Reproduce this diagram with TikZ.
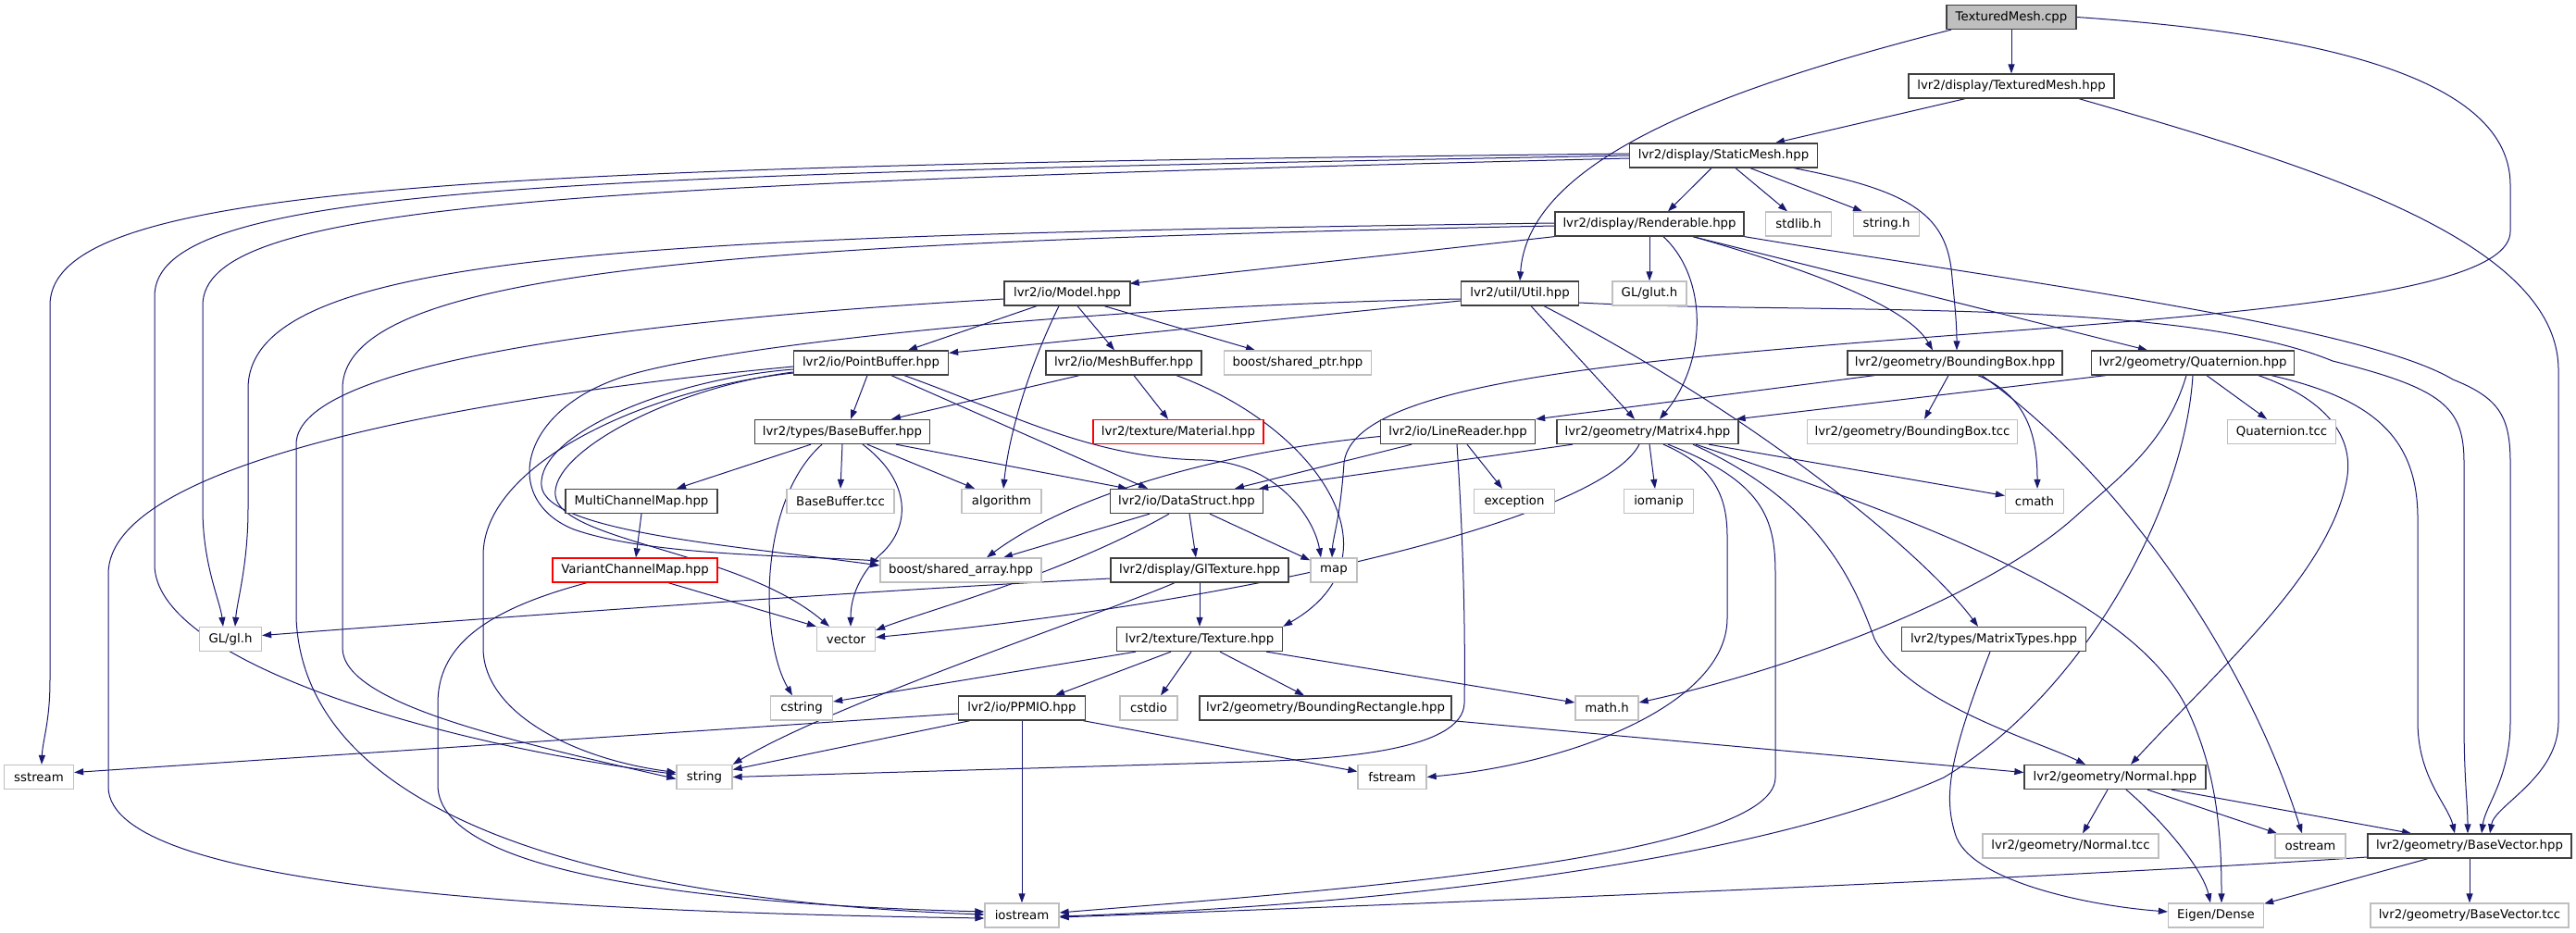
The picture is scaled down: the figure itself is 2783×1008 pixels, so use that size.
\documentclass[tikz,border=0pt]{standalone}
\usepackage{fontspec}
\setmainfont{DejaVu Sans}
\usetikzlibrary{arrows.meta}
\definecolor{edgec}{HTML}{191970}
\definecolor{boxb}{HTML}{404040}
\definecolor{grayb}{HTML}{BFBFBF}
\definecolor{rootf}{HTML}{BFBFBF}
\newcommand{\nf}{\fontsize{13.3}{16}\selectfont}
\pgfdeclarelayer{bg}
\pgfsetlayers{bg,main}
\begin{document}
\begin{tikzpicture}[x=1pt,y=-1pt,
  box/.style={draw=boxb,line width=1.3pt,fill=white,minimum height=26pt,inner sep=0pt,font=\nf},
  sysbox/.style={box,draw=grayb},
  redbox/.style={box,draw=red},
  rootbox/.style={box,fill=rootf},
  edge/.style={draw=edgec,line width=1pt,-{Triangle[length=10pt,width=7pt]}}]
\useasboundingbox (0,0) rectangle (2783,1008);
% nodes
\node[rootbox, minimum width=140pt] (cpp) at (2173,18.5) {TexturedMesh.cpp};
\node[box, minimum width=222pt] (tmh) at (2173,93) {lvr2/display/TexturedMesh.hpp};
\node[box, minimum width=203pt] (sm) at (1862,168) {lvr2/display/StaticMesh.hpp};
\node[box, minimum width=204pt] (rend) at (1782,242) {lvr2/display/Renderable.hpp};
\node[sysbox, minimum width=71pt] (stdlib) at (1943,242) {stdlib.h};
\node[sysbox, minimum width=71pt] (stringh) at (2038,242) {string.h};
\node[box, minimum width=127pt] (util) at (1642,317) {lvr2/util/Util.hpp};
\node[sysbox, minimum width=80pt] (glut) at (1782,317) {GL/glut.h};
\node[box, minimum width=136pt] (model) at (1153,317) {lvr2/io/Model.hpp};
\node[box, minimum width=167pt] (pb) at (941,392) {lvr2/io/PointBuffer.hpp};
\node[box, minimum width=168pt] (mb) at (1214,392) {lvr2/io/MeshBuffer.hpp};
\node[sysbox, minimum width=159pt] (sptr) at (1402,392) {boost/shared\_ptr.hpp};
\node[box, minimum width=232pt] (bbox) at (2112,392) {lvr2/geometry/BoundingBox.hpp};
\node[box, minimum width=219pt] (quat) at (2369,392) {lvr2/geometry/Quaternion.hpp};
\node[box, minimum width=189pt] (bbuf) at (910,466.5) {lvr2/types/BaseBuffer.hpp};
\node[redbox, minimum width=184pt] (mat) at (1273,466.5) {lvr2/texture/Material.hpp};
\node[box, minimum width=167pt] (lr) at (1575,466.5) {lvr2/io/LineReader.hpp};
\node[box, minimum width=196pt] (m4) at (1780,466.5) {lvr2/geometry/Matrix4.hpp};
\node[sysbox, minimum width=227pt] (bbtcc) at (2066,466.5) {lvr2/geometry/BoundingBox.tcc};
\node[sysbox, minimum width=117pt] (qtcc) at (2465,466.5) {Quaternion.tcc};
\node[box, minimum width=164pt] (mcm) at (693,541.5) {MultiChannelMap.hpp};
\node[sysbox, minimum width=116pt] (bbftcc) at (908,541.5) {BaseBuffer.tcc};
\node[sysbox, minimum width=86pt] (algo) at (1082,541.5) {algorithm};
\node[box, minimum width=165pt] (ds) at (1282,541.5) {lvr2/io/DataStruct.hpp};
\node[sysbox, minimum width=87pt] (exc) at (1636,541.5) {exception};
\node[sysbox, minimum width=75pt] (ioman) at (1792,541.5) {iomanip};
\node[sysbox, minimum width=63pt] (cmath) at (2198,541.5) {cmath};
\node[redbox, minimum width=178pt] (vcm) at (686,616) {VariantChannelMap.hpp};
\node[sysbox, minimum width=174pt] (sarr) at (1038,616) {boost/shared\_array.hpp};
\node[box, minimum width=192pt] (glt) at (1296,616) {lvr2/display/GlTexture.hpp};
\node[sysbox, minimum width=50pt] (map) at (1441,616) {map};
\node[sysbox, minimum width=67pt] (gl) at (249,690.5) {GL/gl.h};
\node[sysbox, minimum width=63pt] (vec) at (914,690.5) {vector};
\node[box, minimum width=179pt] (tex) at (1296,690.5) {lvr2/texture/Texture.hpp};
\node[box, minimum width=199pt] (mt) at (2154,690.5) {lvr2/types/MatrixTypes.hpp};
\node[sysbox, minimum width=67pt] (cstring) at (866,765) {cstring};
\node[box, minimum width=137pt] (ppm) at (1104,765) {lvr2/io/PPMIO.hpp};
\node[sysbox, minimum width=62pt] (cstdio) at (1241,765) {cstdio};
\node[box, minimum width=272pt] (brect) at (1432,765) {lvr2/geometry/BoundingRectangle.hpp};
\node[sysbox, minimum width=68pt] (mathh) at (1736,765) {math.h};
\node[sysbox, minimum width=75pt] (sstream) at (42,839.5) {sstream};
\node[sysbox, minimum width=60pt] (string) at (761,839.5) {string};
\node[sysbox, minimum width=74pt] (fstream) at (1504,839.5) {fstream};
\node[box, minimum width=196pt] (normal) at (2285,839.5) {lvr2/geometry/Normal.hpp};
\node[sysbox, minimum width=190pt] (ntcc) at (2237,914) {lvr2/geometry/Normal.tcc};
\node[sysbox, minimum width=76pt] (ostream) at (2496,914) {ostream};
\node[box, minimum width=220pt] (bv) at (2668,914) {lvr2/geometry/BaseVector.hpp};
\node[sysbox, minimum width=80pt] (iostream) at (1104,989) {iostream};
\node[sysbox, minimum width=103pt] (eigen) at (2394,989) {Eigen/Dense};
\node[sysbox, minimum width=214pt] (bvtcc) at (2668,989) {lvr2/geometry/BaseVector.tcc};
\begin{pgfonlayer}{bg}
\fill[white] (0,0) rectangle (2783,1008);
% cpp
\draw[edge] (cpp) -- (tmh);
\draw[edge] ([xshift=-65pt]cpp.south) .. controls (1800,110) and (1650,190) .. (util.north);
\draw[edge] (cpp.east) .. controls (2560,40) and (2712,100) .. (2712,200) -- (2712,250) .. controls (2712,330) and (2300,345) .. (1950,375) .. controls (1650,400) and (1460,430) .. (1452,500) .. controls (1448,560) and (1440,580) .. ([xshift=-2pt]map.north);
% tmh
\draw[edge] ([xshift=-50pt]tmh.south) -- ([xshift=56pt]sm.north);
\draw[edge] ([xshift=73pt]tmh.south) .. controls (2500,180) and (2764,260) .. (2764,400) -- (2764,780) .. controls (2764,840) and (2695,870) .. ([xshift=22pt]bv.north);
% sm
\draw[edge] ([xshift=-13pt]sm.south) -- ([xshift=20pt]rend.north);
\draw[edge] ([xshift=13pt]sm.south) -- ([xshift=-12pt]stdlib.north);
\draw[edge] ([xshift=29pt]sm.south) -- ([xshift=-26pt]stringh.north);
\draw[edge] ([xshift=76pt]sm.south) .. controls (2060,205) and (2100,230) .. (2108,290) .. controls (2112,330) and (2114,350) .. ([xshift=2pt]bbox.north);
\draw[edge] ([yshift=2pt]sm.west) .. controls (500,180) and (54,200) .. (54,330) -- (54,735) .. controls (54,780) and (46,800) .. ([xshift=3pt]sstream.north);
\draw[edge] (sm.west) .. controls (600,190) and (167,200) .. (167,320) -- (167,610) .. controls (167,710) and (450,800) .. ([yshift=3pt]string.west);
\draw[edge] ([yshift=-3pt]sm.west) .. controls (600,200) and (219,220) .. (219,330) -- (219,550) .. controls (219,610) and (238,650) .. ([xshift=-8pt]gl.north);
% rend
\draw[edge] (rend.south west) -- ([xshift=-1pt,yshift=-3pt]model.north east);
\draw[edge] (rend) -- (glut);
\draw[edge] ([yshift=1pt]rend.west) .. controls (700,255) and (268,270) .. (268,420) -- (268,550) .. controls (268,610) and (256,650) .. ([xshift=5pt]gl.north);
\draw[edge] ([yshift=-2pt]rend.west) .. controls (800,262) and (370,290) .. (370,420) -- (370,700) .. controls (370,760) and (550,800) .. ([yshift=-2pt]string.west);
\draw[edge] ([xshift=47pt]rend.south) .. controls (1950,290) and (2060,330) .. ([xshift=-24pt]bbox.north);
\draw[edge] ([xshift=15pt]rend.south) .. controls (1845,300) and (1845,390) .. ([xshift=13pt]m4.north);
\draw[edge] ([xshift=47pt]rend.south) -- ([xshift=-49pt]quat.north);
\draw[edge] (rend.south east) .. controls (2150,300) and (2550,350) .. (2650,410) .. controls (2700,430) and (2712,450) .. (2712,500) -- (2712,780) .. controls (2712,840) and (2685,870) .. ([xshift=13pt]bv.north);
% util
\draw[edge] ([yshift=-8pt]util.west) -- ([yshift=-3pt]pb.north east);
\draw[edge] ([xshift=12pt]util.south) -- ([xshift=-14pt]m4.north);
\draw[edge] ([xshift=26pt]util.south) .. controls (1900,450) and (2080,600) .. ([xshift=-17pt]mt.north);
\draw[edge] ([yshift=-10pt]util.east) .. controls (1950,340) and (2350,320) .. (2520,390) .. controls (2640,420) and (2662,440) .. (2662,500) -- (2662,780) .. controls (2662,840) and (2666,870) .. ([xshift=-2pt]bv.north);
\draw[edge] ([yshift=-6pt]util.west) .. controls (1200,330) and (800,370) .. (680,405) .. controls (560,440) and (540,540) .. (620,572) .. controls (700,600) and (850,600) .. ([yshift=10pt]sarr.west);
% model
\draw[edge] ([xshift=-33pt]model.south) -- ([xshift=40pt]pb.north);
\draw[edge] ([xshift=11pt]model.south) -- ([xshift=-10pt]mb.north);
\draw[edge] ([xshift=40pt]model.south) -- ([xshift=-46pt]sptr.north);
\draw[edge] ([xshift=-9pt]model.south) .. controls (1110,400) and (1090,470) .. ([xshift=2pt]algo.north);
\draw[edge] ([yshift=-6pt]model.west) .. controls (700,345) and (320,390) .. (320,480) -- (320,668) .. controls (330,900) and (700,975) .. ([yshift=1pt]iostream.west);
% pb
\draw[edge] ([xshift=-4pt]pb.south) -- ([xshift=9pt]bbuf.north);
\draw[edge] ([xshift=22pt]pb.south) -- ([xshift=-42pt]ds.north);
\draw[edge] ([xshift=36pt]pb.south) .. controls (1100,450) and (1180,495) .. (1300,497) .. controls (1380,500) and (1420,560) .. ([xshift=-14pt]map.north);
\draw[edge] ([yshift=-4pt]pb.west) .. controls (500,430) and (117,500) .. (117,620) -- (117,850) .. controls (117,960) and (600,985) .. ([yshift=-3pt]iostream.west);
\draw[edge] ([yshift=-7pt]pb.west) .. controls (720,410) and (580,470) .. (585,525) .. controls (590,575) and (800,590) .. ([yshift=5pt]sarr.west);
\draw[edge] ([yshift=-10pt]pb.west) .. controls (720,420) and (595,490) .. (600,535) .. controls (605,585) and (800,595) .. ([xshift=-18pt]vec.north);
\draw[edge] ([yshift=-11pt]pb.west) .. controls (700,420) and (522,500) .. (522,600) -- (522,700) .. controls (522,770) and (620,820) .. ([yshift=5pt]string.west);
% mb
\draw[edge] ([xshift=-48pt]mb.south) -- ([xshift=53pt]bbuf.north);
\draw[edge] ([xshift=11pt]mb.south) -- ([xshift=-11pt]mat.north);
\draw[edge] ([xshift=57pt]mb.south) .. controls (1420,460) and (1520,600) .. (tex.north east);
% bbuf
\draw[edge] ([xshift=-34pt]bbuf.south) -- ([xshift=38pt]mcm.north);
\draw[edge] (bbuf.south) -- (bbftcc.north);
\draw[edge] ([xshift=27pt]bbuf.south) -- ([xshift=-29pt]algo.north);
\draw[edge] ([xshift=58pt]bbuf.south) -- ([xshift=-64pt]ds.north);
\draw[edge] ([xshift=22pt]bbuf.south) .. controls (985,520) and (985,570) .. (950,600) .. controls (925,625) and (919,650) .. ([xshift=5pt]vec.north);
\draw[edge] ([xshift=-22pt]bbuf.south) .. controls (820,540) and (820,690) .. ([xshift=-10pt]cstring.north);
% mcm, vcm
\draw[edge] (mcm.south) -- ([xshift=1pt]vcm.north);
\draw[edge] ([xshift=36pt]vcm.south) -- (vec.north west);
\draw[edge] ([xshift=-52pt]vcm.south) .. controls (520,660) and (473,700) .. (473,760) -- (473,848) .. controls (473,950) and (800,978) .. ([yshift=4pt]iostream.west);
% ds
\draw[edge] ([xshift=-40pt]ds.south) -- ([xshift=46pt]sarr.north);
\draw[edge] ([xshift=25pt]ds.south) -- ([yshift=-3pt]map.north west);
\draw[edge] ([xshift=3pt]ds.south) -- ([xshift=-4pt]glt.north);
\draw[edge] ([xshift=-19pt]ds.south) .. controls (1150,620) and (1000,660) .. ([yshift=-4pt]vec.north east);
% glt
\draw[edge] (glt) -- (tex);
\draw[edge] ([yshift=-9pt]glt.west) .. controls (900,640) and (500,670) .. ([yshift=4pt]gl.east);
\draw[edge] ([xshift=-27pt]glt.south) .. controls (1200,660) and (900,760) .. (string.north east);
% tex
\draw[edge] ([xshift=-69pt]tex.south) -- ([yshift=7pt]cstring.east);
\draw[edge] ([xshift=-31pt]tex.south) -- ([xshift=36pt]ppm.north);
\draw[edge] ([xshift=-9pt]tex.south) -- ([xshift=13pt]cstdio.north);
\draw[edge] ([xshift=22pt]tex.south) -- ([xshift=-23pt]brect.north);
\draw[edge] ([xshift=-18pt]tex.south east) -- ([yshift=6pt]mathh.west);
% ppm
\draw[edge] ([yshift=-6pt]ppm.west) -- ([yshift=5pt]sstream.east);
\draw[edge] ([xshift=13pt]ppm.south west) -- ([yshift=8pt]string.east);
\draw[edge] (ppm) -- (iostream);
\draw[edge] ([xshift=-3pt]ppm.south east) -- ([yshift=6pt]fstream.west);
% lr
\draw[edge] ([yshift=-5pt]lr.west) .. controls (1300,490) and (1150,540) .. ([xshift=28pt]sarr.north);
\draw[edge] ([xshift=-50pt]lr.south) -- ([xshift=52pt]ds.north);
\draw[edge] ([xshift=10pt]lr.south) -- ([xshift=-13pt]exc.north);
\draw[edge] ([xshift=-1pt]lr.south) .. controls (1582,600) and (1583,700) .. (1582,760) .. controls (1580,810) and (1450,820) .. (1350,823) -- (string.east);
% m4
\draw[edge] ([xshift=-81pt]m4.south) -- ([xshift=-5pt]ds.north east);
\draw[edge] ([xshift=-9pt]m4.south) .. controls (1730,560) and (1350,650) .. ([yshift=2pt]vec.east);
\draw[edge] ([xshift=2pt]m4.south) -- ([xshift=-4pt]ioman.north);
\draw[edge] ([xshift=66pt]m4.south) -- ([yshift=6pt]cmath.west);
\draw[edge] ([xshift=17pt]m4.south) .. controls (1855,505) and (1866,540) .. (1866,580) -- (1866,668) .. controls (1866,760) and (1700,825) .. (fstream.east);
\draw[edge] ([xshift=22pt]m4.south) .. controls (1905,520) and (1918,560) .. (1918,620) -- (1918,840) .. controls (1918,930) and (1400,965) .. ([yshift=3pt]iostream.east);
\draw[edge] ([xshift=49pt]m4.south) .. controls (1960,540) and (2000,620) .. (2025,690) .. controls (2060,760) and (2200,800) .. ([xshift=-32pt]normal.north);
\draw[edge] ([xshift=52pt]m4.south) .. controls (2100,570) and (2300,650) .. (2360,760) .. controls (2395,830) and (2400,900) .. ([xshift=6pt]eigen.north);
% quat
\draw[edge] ([xshift=-94pt]quat.south) -- ([xshift=-3pt]m4.north east);
\draw[edge] ([xshift=15pt]quat.south) -- ([xshift=-16pt]qtcc.north);
\draw[edge] ([xshift=-7pt]quat.south) .. controls (2340,480) and (2290,515) .. (2240,560) .. controls (2150,640) and (1950,720) .. ([yshift=6pt]mathh.east);
\draw[edge] (quat.south) .. controls (2360,550) and (2250,750) .. (2100,840) .. controls (1900,930) and (1500,978) .. ([yshift=-1pt]iostream.east);
\draw[edge] ([xshift=71pt]quat.south) .. controls (2510,430) and (2545,470) .. (2535,520) .. controls (2515,620) and (2400,720) .. ([xshift=17pt]normal.north);
\draw[edge] ([xshift=85pt]quat.south) .. controls (2560,430) and (2612,470) .. (2612,560) -- (2612,780) .. controls (2612,840) and (2645,870) .. ([xshift=-16pt]bv.north);
% bbox
\draw[edge] ([xshift=-87pt]bbox.south) -- (lr.north east);
\draw[edge] ([xshift=-7pt]bbox.south) -- ([xshift=13pt]bbtcc.north);
\draw[edge] ([xshift=25pt]bbox.south) .. controls (2195,430) and (2201,480) .. ([xshift=3pt]cmath.north);
\draw[edge] ([xshift=29pt]bbox.south) .. controls (2300,520) and (2430,720) .. ([xshift=-9pt]ostream.north);
% mt, brect
\draw[edge] ([xshift=-4pt]mt.south) .. controls (2105,820) and (2100,860) .. (2112,900) .. controls (2125,950) and (2250,978) .. ([yshift=4pt]eigen.west);
\draw[edge] (brect.south east) -- ([yshift=5pt]normal.west);
% normal
\draw[edge] ([xshift=-8pt]normal.south) -- ([xshift=13pt]ntcc.north);
\draw[edge] ([xshift=12pt]normal.south) .. controls (2340,890) and (2380,940) .. ([xshift=-6pt]eigen.north);
\draw[edge] ([xshift=35pt]normal.south) -- ([xshift=-36pt]ostream.north);
\draw[edge] ([xshift=61pt]normal.south) -- ([xshift=-63pt]bv.north);
% bv
\draw[edge] ([yshift=-12pt]bv.west) .. controls (2200,950) and (1500,978) .. ([yshift=-2pt]iostream.east);
\draw[edge] ([xshift=-45pt]bv.south) -- ([yshift=-1pt]eigen.north east);
\draw[edge] (bv) -- (bvtcc);
\end{pgfonlayer}
\end{tikzpicture}
\end{document}
